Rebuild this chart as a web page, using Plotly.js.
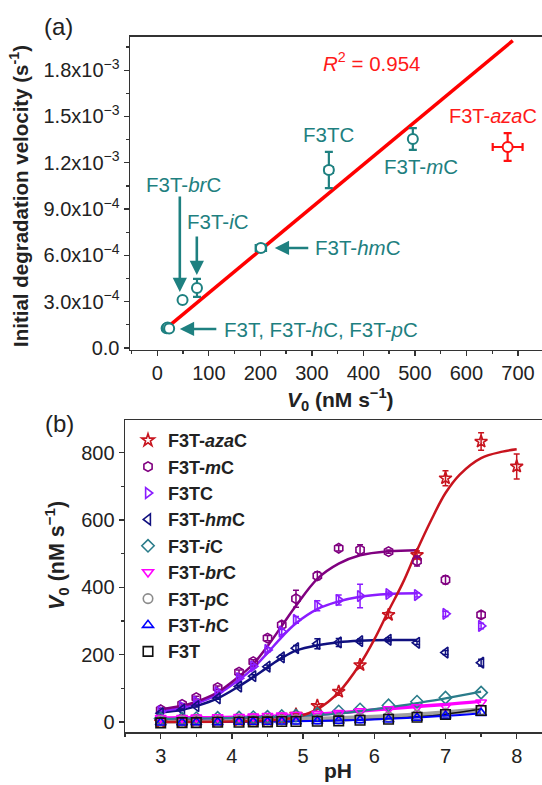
<!DOCTYPE html>
<html><head><meta charset="utf-8">
<script src="https://cdn.plot.ly/plotly-3.0.1.min.js"></script>
<style>html,body{margin:0;padding:0;overflow:hidden;background:#fff}#c{width:556px;height:785px}</style>
</head><body><div id="c"></div>
<script>
// ---------- Panel (a) data ----------
const aNames = ["F3T", "F3T-hC", "F3T-pC", "F3T-brC", "F3T-iC", "F3T-hmC", "F3TC", "F3T-mC"];
const aV0 = [18, 20, 23, 49, 77, 201, 333, 496];
const aRate = [1.28e-4, 1.32e-4, 1.26e-4, 3.11e-4, 3.89e-4, 6.48e-4, 1.153e-3, 1.354e-3];
const aRateErr = [0.6e-5, 0.6e-5, 0.6e-5, 1.2e-5, 5.8e-5, 2.2e-5, 1.17e-4, 7.0e-5];
const aV0Err = [4, 4, 4, 5, 4, 10, 8, 6];
const azaV0 = [680];
const azaRate = [1.302e-3];
const azaV0Err = [29];
const azaRateErr = [9.0e-5];
const fitSlope = 2.77e-6;
const fitIntercept = 8.0e-5;
const fitRange = [20, 690];
const aYTicks = [0, 3e-4, 6e-4, 9e-4, 1.2e-3, 1.5e-3, 1.8e-3];
const aYTickText = ["0.0", "3.0x10<sup>−4</sup>", "6.0x10<sup>−4</sup>", "9.0x10<sup>−4</sup>", "1.2x10<sup>−3</sup>", "1.5x10<sup>−3</sup>", "1.8x10<sup>−3</sup>"];

// ---------- Panel (b) data ----------
const pH = [3.0, 3.3, 3.5, 3.8, 4.1, 4.3, 4.5, 4.7, 4.9, 5.2, 5.5, 5.8, 6.2, 6.6, 7.0, 7.5];
const pHaza = [3.0, 3.3, 3.5, 3.8, 4.1, 4.3, 4.5, 4.7, 4.9, 5.2, 5.5, 5.8, 6.2, 6.6, 7.0, 7.5, 8.0];
const azaC = [0, 2, 3, 3, 4, 5, 6, 8, 22, 48, 90, 169, 318, 496, 724, 833, 759];
const azaCErr = [2, 2, 2, 2, 2, 2, 2, 2, 3, 4, 5, 6, 8, 12, 22, 26, 37];
const mC = [36, 52, 72, 102, 148, 179, 249, 288, 366, 434, 516, 511, 506, 478, 422, 318];
const mCErr = [3, 3, 4, 5, 6, 6, 8, 10, 25, 12, 8, 15, 5, 15, 12, 10];
const F3TC = [31, 45, 60, 88, 130, 165, 214, 268, 303, 345, 362, 374, 380, 377, 321, 285];
const F3TCErr = [2, 2, 3, 4, 5, 5, 6, 8, 10, 15, 15, 35, 6, 6, 8, 8];
const hmC = [26, 36, 47, 70, 105, 136, 164, 192, 219, 232, 236, 240, 244, 235, 206, 176];
const hmCErr = [2, 2, 3, 3, 4, 4, 5, 6, 8, 15, 12, 6, 6, 5, 6, 10];
const iC = [10, 10, 11, 12, 13, 14, 15, 17, 19, 24, 31, 37, 49, 60, 72, 87];
const brC = [12, 12, 13, 14, 15, 16, 18, 19, 21, 24, 27, 32, 38, 44, 46, 58];
const pC = [3, 3, 4, 4, 5, 5, 6, 6, 7, 8, 9, 11, 15, 20, 26, 36];
const hC = [-2, -2, -1, -1, 0, 0, 0, 1, 1, 2, 3, 5, 7, 12, 18, 26];
const F3T = [-3, -2, -2, -1, -1, 0, 0, 1, 1, 2, 3, 5, 8, 14, 22, 34];

// fitted curves
const fitPH = [3.0, 3.3, 3.5, 3.8, 4.1, 4.3, 4.5, 4.7, 4.9, 5.2, 5.5, 5.8, 6.2, 6.6];
const mCFit = [38, 48, 60, 88, 135, 172, 225, 285, 345, 425, 470, 495, 507, 510];
const F3TCFit = [33, 42, 55, 82, 125, 160, 205, 252, 293, 335, 358, 372, 380, 382];
const hmCFit = [28, 36, 47, 70, 106, 133, 162, 190, 212, 228, 237, 241, 243, 243];
const azaFitPH = [3.0, 4.0, 4.5, 4.9, 5.2, 5.5, 5.8, 6.0, 6.2, 6.4, 6.6, 6.8, 7.0, 7.2, 7.5, 7.8, 8.0];
const azaCFit = [0, 1, 4, 14, 38, 88, 172, 245, 330, 413, 510, 600, 680, 735, 784, 803, 810];
const iCFit = [9, 10, 10, 11, 12, 13, 14, 15, 17, 20, 25, 32, 43, 56, 70, 90];
const brCFit = [11, 12, 12, 13, 14, 15, 16, 18, 20, 23, 27, 32, 39, 46, 52, 61];
const pCFit = [3, 3, 4, 4, 5, 5, 6, 6, 7, 8, 10, 12, 16, 21, 27, 36];
const hCFit = [0, 0, 0, 0, 0, 1, 1, 1, 2, 3, 4, 6, 9, 13, 18, 26];
const F3TFit = [-1, -1, 0, 0, 0, 1, 1, 1, 2, 3, 4, 6, 10, 15, 23, 38];

// ---------- styling ----------
const W = 556, H = 785;
const fx = px => px / W;
const fy = py => 1 - py / H;
const FONT = "Liberation Sans, Arial, Helvetica, sans-serif";
const TEAL = "#1e8080";
const RED = "#ff1a1a";
const C = {aza: "#c8141e", mC: "#800080", F3TC: "#8a1cff", hmC: "#10107f", iC: "#2a7c8a", brC: "#ff00ff", pC: "#8c8c8c", hC: "#0000ff", F3T: "#111111"};

const traces = [];
// panel a
traces.push({x: fitRange, y: fitRange.map(v => fitIntercept + fitSlope * v), mode: "lines", line: {color: "#ff0000", width: 3.5}, xaxis: "x", yaxis: "y", showlegend: false, hoverinfo: "skip"});
traces.push({x: aV0, y: aRate, mode: "markers", xaxis: "x", yaxis: "y", showlegend: false,
  marker: {symbol: "circle", size: 10, color: "#fff", line: {color: TEAL, width: 2}},
  error_y: {type: "data", array: aRateErr, color: TEAL, thickness: 2.2, width: 4},
  error_x: {type: "data", array: aV0Err, color: TEAL, thickness: 2.2, width: 4}});
traces.push({x: azaV0, y: azaRate, mode: "markers", xaxis: "x", yaxis: "y", showlegend: false,
  marker: {symbol: "circle", size: 10, color: "#fff", line: {color: "#ff1010", width: 2}},
  error_y: {type: "data", array: azaRateErr, color: "#ff1010", thickness: 2.2, width: 4},
  error_x: {type: "data", array: azaV0Err, color: "#ff1010", thickness: 2.2, width: 4}});

// panel b fits
function fit(x, y, color, width) {
  traces.push({x: x, y: y, mode: "lines", line: {color: color, width: width, shape: "spline", smoothing: 1}, xaxis: "x2", yaxis: "y2", showlegend: false, hoverinfo: "skip"});
}
fit(pH, pCFit, "#a0a0a0", 5);
fit(pH, F3TFit, C.F3T, 1.5);
fit(pH, hCFit, C.hC, 2);
fit(pH, brCFit, C.brC, 3.5);
fit(pH, iCFit, C.iC, 2.2);
fit(fitPH, hmCFit, C.hmC, 2.5);
fit(fitPH, F3TCFit, C.F3TC, 2.5);
fit(fitPH, mCFit, C.mC, 2.5);
fit(azaFitPH, azaCFit, C.aza, 2.5);

// panel b markers
function pts(name, x, y, err, color, symbol) {
  const t = {name: name, x: x, y: y, mode: "markers", xaxis: "x2", yaxis: "y2",
    marker: {symbol: symbol, size: 9.5, color: color, line: {color: color, width: 1.6}}};
  if (err) t.error_y = {type: "data", array: err, color: color, thickness: 1.5, width: 3};
  traces.push(t);
}
pts("F3T-<i>aza</i>C", pHaza, azaC, azaCErr, C.aza, "star-open");
pts("F3T-<i>m</i>C", pH, mC, mCErr, C.mC, "hexagon-open");
pts("F3TC", pH, F3TC, F3TCErr, C.F3TC, "triangle-right-open");
pts("F3T-<i>hm</i>C", pH, hmC, hmCErr, C.hmC, "triangle-left-open");
pts("F3T-<i>i</i>C", pH, iC, null, C.iC, "diamond-open");
pts("F3T-<i>br</i>C", pH, brC, null, C.brC, "triangle-down-open");
pts("F3T-<i>p</i>C", pH, pC, null, C.pC, "circle-open");
pts("F3T-<i>h</i>C", pH, hC, null, C.hC, "triangle-up-open");
pts("F3T", pH, F3T, null, C.F3T, "square-open");

const axBase = {showline: true, linecolor: "#333", linewidth: 1.5, mirror: true, ticks: "outside", ticklen: 5, tickwidth: 1.3, tickcolor: "#333",
  showgrid: false, zeroline: false, tickfont: {family: FONT, size: 20, color: "#222"}};

function ann(text, px, py, color, size, extra) {
  return Object.assign({text: text, x: fx(px), y: fy(py), xref: "paper", yref: "paper", showarrow: false,
    font: {family: FONT, size: size, color: color}, xanchor: "center", yanchor: "middle"}, extra || {});
}
function arrow(x, y, ax, ay) {
  return {text: "", x: x, y: y, xref: "x", yref: "y", ax: ax, ay: ay, showarrow: true,
    arrowhead: 2, arrowsize: 1.1, arrowwidth: 2.6, arrowcolor: TEAL, standoff: 0, startstandoff: 0};
}

const layout = {
  width: W, height: H, margin: {l: 0, r: 0, t: 0, b: 0}, paper_bgcolor: "#fff", plot_bgcolor: "rgba(0,0,0,0)",
  font: {family: FONT, color: "#222"},
  xaxis: Object.assign({}, axBase, {domain: [fx(130), fx(543.7)], range: [-53, 750], anchor: "y", tickvals: [0, 100, 200, 300, 400, 500, 600, 700],
    minor: {dtick: 50, tick0: 0, ticklen: 3, ticks: "outside", tickcolor: "#333"}}),
  yaxis: Object.assign({}, axBase, {domain: [fy(349.5), fy(36.5)], range: [-1e-5, 2.018e-3], anchor: "x", tickvals: aYTicks, ticktext: aYTickText,
    minor: {dtick: 1.5e-4, tick0: 0, ticklen: 3, ticks: "outside", tickcolor: "#333"}}),
  xaxis2: Object.assign({}, axBase, {domain: [fx(125.1), fx(552.3)], range: [2.5, 8.5], anchor: "y2", dtick: 1, tick0: 0,
    minor: {dtick: 0.5, tick0: 0, ticklen: 3, ticks: "outside", tickcolor: "#333"}}),
  yaxis2: Object.assign({}, axBase, {domain: [fy(732), fy(420)], range: [-30, 897], anchor: "x2", dtick: 200, tick0: 0,
    minor: {dtick: 100, tick0: 0, ticklen: 3, ticks: "outside", tickcolor: "#333"}}),
  showlegend: true,
  legend: {x: fx(128), y: fy(422), xanchor: "left", yanchor: "top", bgcolor: "rgba(0,0,0,0)", borderwidth: 0,
    font: {family: FONT, size: 18, color: "#222", weight: "bold"}, tracegroupgap: 0, traceorder: "normal"},
  annotations: [
    ann("(a)", 58, 27, "#222", 24),
    ann("(b)", 59, 423, "#222", 24),
    ann("<b>Initial degradation velocity (s<sup>-1</sup>)</b>", 19, 196, "#222", 20.5, {textangle: -90}),
    ann("<b><i>V</i><sub>0</sub> (nM s<sup>−1</sup>)</b>", 340, 399, "#222", 21),
    ann("<b><i>V</i><sub>0</sub> (nM s<sup>−1</sup>)</b>", 56, 556, "#222", 21.5, {textangle: -90}),
    ann("<b>pH</b>", 338, 770, "#222", 21),
    ann("<i>R</i><sup>2</sup> = 0.954", 371, 62, RED, 20.5),
    ann("F3T-<i>aza</i>C", 493, 116, RED, 20),
    ann("F3TC", 328, 135, TEAL, 20.5),
    ann("F3T-<i>m</i>C", 421, 167, TEAL, 20.5),
    ann("F3T-<i>br</i>C", 183, 185, TEAL, 20.5),
    ann("F3T-<i>i</i>C", 218, 222, TEAL, 20.5),
    ann("F3T-<i>hm</i>C", 313, 248, TEAL, 20.5, {xanchor: "left"}),
    ann("F3T, F3T-<i>h</i>C, F3T-<i>p</i>C", 222, 329, TEAL, 20.5, {xanchor: "left"}),
    arrow(43.7, 3.63e-4, 0, -97),
    arrow(76.7, 4.73e-4, 0, -40),
    arrow(228, 6.48e-4, 35, 0),
    arrow(43.7, 1.23e-4, 38, 0)
  ]
};

Plotly.newPlot("c", traces, layout, {displayModeBar: false, staticPlot: true});
</script></body></html>
